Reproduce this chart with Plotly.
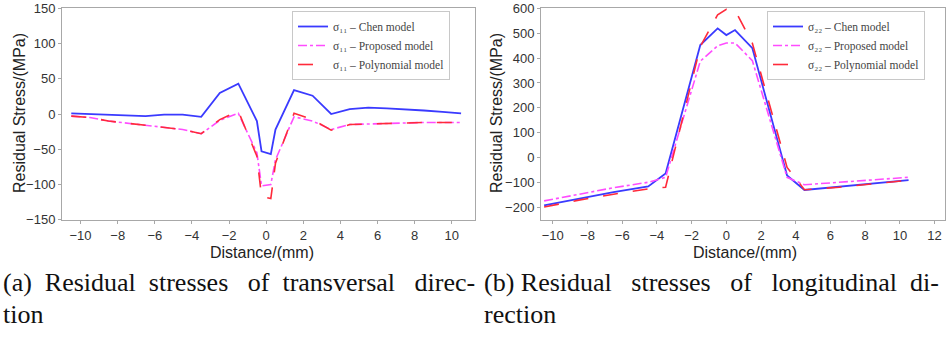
import plotly.graph_objects as go

# ---------------- data ----------------
x_trans = [-10.5, -9.5, -8.5, -7.5, -6.5, -5.5, -4.5, -3.5, -2.5, -1.5, -0.5, -0.25,
           0.25, 0.5, 1.5, 2.5, 3.5, 4.5, 5.5, 6.5, 7.5, 8.5, 9.5, 10.5]
chen_11 = [1, 0, -1, -2, -3, -1, -1, -4, 30, 43, -10, -53,
           -57, -22, 34, 26, 0, 7, 9, 8, 7, 5, 3, 1]
proposed_11 = [-3, -5, -10, -13, -17, -20, -22, -28, -9, 1, -55, -102,
               -100, -65, -4, -10, -22, -15, -14, -13, -12, -12, -12, -12]
poly_11 = [-3, -5, -10, -13, -17, -20, -22, -28, -8, 4, -60, -117,
           -120, -70, 1, -8, -23, -15, -14, -13, -12, -12, -12, -12]

x_long = [-10.5, -8.5, -6.5, -4.5, -3.5, -1.5, -0.5, 0, 0.5, 1.5, 3.5, 4.5, 6.5, 8.5, 10.5]
chen_22 = [-193, -165, -140, -117, -65, 453, 520, 493, 513, 440, -73, -131, -118, -105, -91]
proposed_22 = [-175, -148, -122, -100, -80, 388, 450, 461, 461, 390, -80, -110, -100, -90, -80]
poly_22 = [-200, -172, -148, -127, -120, 447, 575, 597, 593, 460, -40, -130, -120, -105, -92]

names_11 = ["σ₁₁ – Chen model", "σ₁₁ – Proposed model", "σ₁₁ – Polynomial model"]
names_22 = ["σ₂₂ – Chen model", "σ₂₂ – Proposed model", "σ₂₂ – Polynomial model"]

ticks_x1 = [-10, -8, -6, -4, -2, 0, 2, 4, 6, 8, 10]
ticks_x2 = [-10, -8, -6, -4, -2, 0, 2, 4, 6, 8, 10, 12]
ticks_y1 = [-150, -100, -50, 0, 50, 100, 150]
ticks_y2 = [-200, -100, 0, 100, 200, 300, 400, 500, 600]

BLUE = "#3a3aff"
MAGENTA = "#ff4cff"
RED = "#ff2a3a"

fig = go.Figure()

styles = [(BLUE, "solid", 1.8), (MAGENTA, "dashdot", 1.6), (RED, "longdash", 1.6)]

for ys, nm, (c, d, w) in zip([chen_11, proposed_11, poly_11], names_11, styles):
    fig.add_trace(go.Scatter(x=x_trans, y=ys, mode="lines", name=nm,
                             line=dict(color=c, dash=d, width=w),
                             xaxis="x", yaxis="y", legend="legend"))
for ys, nm, (c, d, w) in zip([chen_22, proposed_22, poly_22], names_22, styles):
    fig.add_trace(go.Scatter(x=x_long, y=ys, mode="lines", name=nm,
                             line=dict(color=c, dash=d, width=w),
                             xaxis="x2", yaxis="y2", legend="legend2"))

W, H = 947, 341
def px(xp): return xp / W
def py(yp): return 1 - yp / H

axis_common = dict(showgrid=False, zeroline=False, showline=True, mirror=True,
                   linecolor="#a8a8a8", linewidth=1, ticks="outside", ticklen=3,
                   tickcolor="#a8a8a8", automargin=False,
                   tickfont=dict(family="Liberation Sans, Arial", size=13, color="#333333"))

leg_common = dict(bgcolor="white", bordercolor="#c8c8c8", borderwidth=1,
                  font=dict(family="Liberation Serif, DejaVu Serif", size=11.5, color="#444444"),
                  itemwidth=30, tracegroupgap=0, xanchor="left", yanchor="top")

fig.update_layout(
    width=W, height=H,
    margin=dict(l=0, r=0, t=0, b=0, autoexpand=False),
    paper_bgcolor="white", plot_bgcolor="white",
    showlegend=True,
    xaxis=dict(domain=[px(62), px(475)], range=[-11.0, 11.25], tickvals=ticks_x1,
               anchor="y", **axis_common),
    yaxis=dict(domain=[py(220), py(8)], range=[-150.5, 150.5], tickvals=ticks_y1,
               anchor="x", **axis_common),
    xaxis2=dict(domain=[px(541), px(945)], range=[-10.68, 12.6], tickvals=ticks_x2,
                anchor="y2", **axis_common),
    yaxis2=dict(domain=[py(220), py(8)], range=[-252, 602], tickvals=ticks_y2,
                anchor="x2", **axis_common),
    legend=dict(x=px(292), y=py(11), **leg_common),
    legend2=dict(x=px(767), y=py(11), **leg_common),
)

ann = []
sans = dict(family="Liberation Sans, Arial", size=16, color="#222222")
serif = dict(family="Liberation Serif, DejaVu Serif", size=26, color="#111111")
ann.append(dict(text="Distance/(mm)", x=px(262), y=py(252), xref="paper", yref="paper",
                showarrow=False, font=sans, xanchor="center", yanchor="middle"))
ann.append(dict(text="Distance/(mm)", x=px(745), y=py(252), xref="paper", yref="paper",
                showarrow=False, font=sans, xanchor="center", yanchor="middle"))
ann.append(dict(text="Residual Stress/(MPa)", x=px(20), y=py(113), xref="paper", yref="paper",
                showarrow=False, font=sans, textangle=-90, xanchor="center", yanchor="middle"))
ann.append(dict(text="Residual Stress/(MPa)", x=px(497), y=py(113), xref="paper", yref="paper",
                showarrow=False, font=sans, textangle=-90, xanchor="center", yanchor="middle"))
ann.append(dict(text="(a)  Residual  stresses   of  transversal   direc-", x=px(1), y=py(282),
                xref="paper", yref="paper", showarrow=False, font=serif,
                xanchor="left", yanchor="middle"))
ann.append(dict(text="tion", x=px(1), y=py(314),
                xref="paper", yref="paper", showarrow=False, font=serif,
                xanchor="left", yanchor="middle"))
ann.append(dict(text="(b) Residual   stresses   of   longitudinal  di-", x=px(482), y=py(282),
                xref="paper", yref="paper", showarrow=False, font=serif,
                xanchor="left", yanchor="middle"))
ann.append(dict(text="rection", x=px(482), y=py(314),
                xref="paper", yref="paper", showarrow=False, font=serif,
                xanchor="left", yanchor="middle"))
fig.update_layout(annotations=ann)

fig.write_html("out.html")
